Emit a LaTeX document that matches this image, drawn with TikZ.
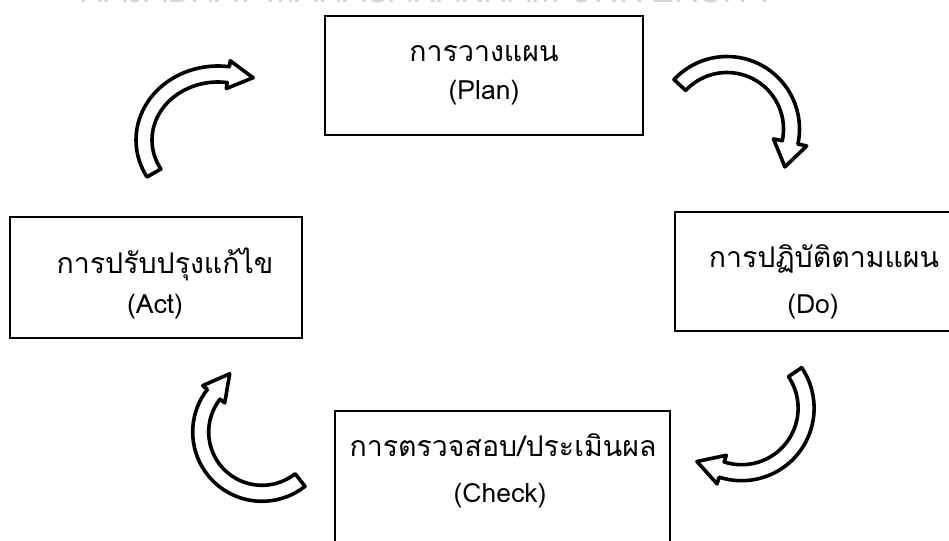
\documentclass[tikz,border=0pt]{standalone}
\usepackage{fontspec}
\newfontfamily\thaifont[Script=Thai]{Loma}
\newfontfamily\wmfont{Liberation Sans}
\newcommand{\blockarrow}[9]{% cx cy rx ry start base halfshaft halfhead headlength
  \pgfmathsetmacro\baSG{sign(#6-#5)}
  \pgfmathsetmacro\baTX{-#3*sin(#6)*\baSG}
  \pgfmathsetmacro\baTY{#4*cos(#6)*\baSG}
  \pgfmathsetmacro\baTN{veclen(\baTX,\baTY)}
  \pgfmathsetmacro\baTipX{#1+#3*cos(#6)+#9*\baTX/\baTN}
  \pgfmathsetmacro\baTipY{#2+#4*sin(#6)+#9*\baTY/\baTN}
  \filldraw[arrowbody] plot[domain=#5:#6, samples=40] ({#1+(#3+#7)*cos(\x)},{#2+(#4+#7)*sin(\x)})
    -- ({#1+(#3+#8)*cos(#6)},{#2+(#4+#8)*sin(#6)})
    -- (\baTipX,\baTipY)
    -- ({#1+(#3-#8)*cos(#6)},{#2+(#4-#8)*sin(#6)})
    -- plot[domain=#6:#5, samples=40] ({#1+(#3-#7)*cos(\x)},{#2+(#4-#7)*sin(\x)})
    -- cycle;
}
\begin{document}
\begin{tikzpicture}[x=1pt,y=-1pt,
  box/.style={draw=black, line width=1.6pt, rectangle, inner sep=0pt},
  thai/.style={font=\thaifont\fontsize{28.5}{32}\selectfont, anchor=base, inner sep=0pt},
  lat/.style={font=\thaifont\fontsize{26.5}{30}\selectfont, anchor=base, inner sep=0pt},
  watermark/.style={font=\wmfont\fontsize{46}{50}\selectfont, text=black!16, anchor=base, inner sep=0pt, xscale=0.75},
  arrowbody/.style={fill=white, draw=black, line width=3.6pt, line join=round}]
\useasboundingbox (0,0) rectangle (949,540);
\fill[white] (0,0) rectangle (949,540);
\node[watermark] (wm) at (428,3) {RAJABHAT MAHASARAKHAM UNIVERSITY};
% boxes
\node[box, minimum width=318pt, minimum height=119pt] (plan) at (484,75.5) {};
\node[box, minimum width=360pt, minimum height=119pt] (do) at (855,271.5) {};
\node[box, minimum width=292pt, minimum height=121pt] (act) at (156,277.5) {};
\node[box, minimum width=335pt, minimum height=169pt] (check) at (502.5,495.5) {};
% texts
\node[thai] (planT) at (484,62) {การวางแผน};
\node[lat] (planL) at (484,100) {(Plan)};
\node[thai] (doT) at (824,267) {การปฏิบัติตามแผน};
\node[lat] (doL) at (813,313) {(Do)};
\node[thai] (actT) at (165,273) {การปรับปรุงแก้ไข};
\node[lat] (actL) at (155,313) {(Act)};
\node[thai] (checkT) at (503,456) {การตรวจสอบ/ประเมินผล};
\node[lat] (checkL) at (500,502) {(Check)};
% curved block arrows
\blockarrow{218}{140}{74}{66}{150}{278}{8}{14}{25}
\blockarrow{727}{129}{64.5}{64.5}{223}{372}{8}{17}{25}
\blockarrow{741.6}{408.2}{64.5}{64.5}{-34}{108}{8}{15}{26}
\blockarrow{262}{432}{61.3}{61.3}{51.6}{218}{8}{14}{26}
\end{tikzpicture}
\end{document}
